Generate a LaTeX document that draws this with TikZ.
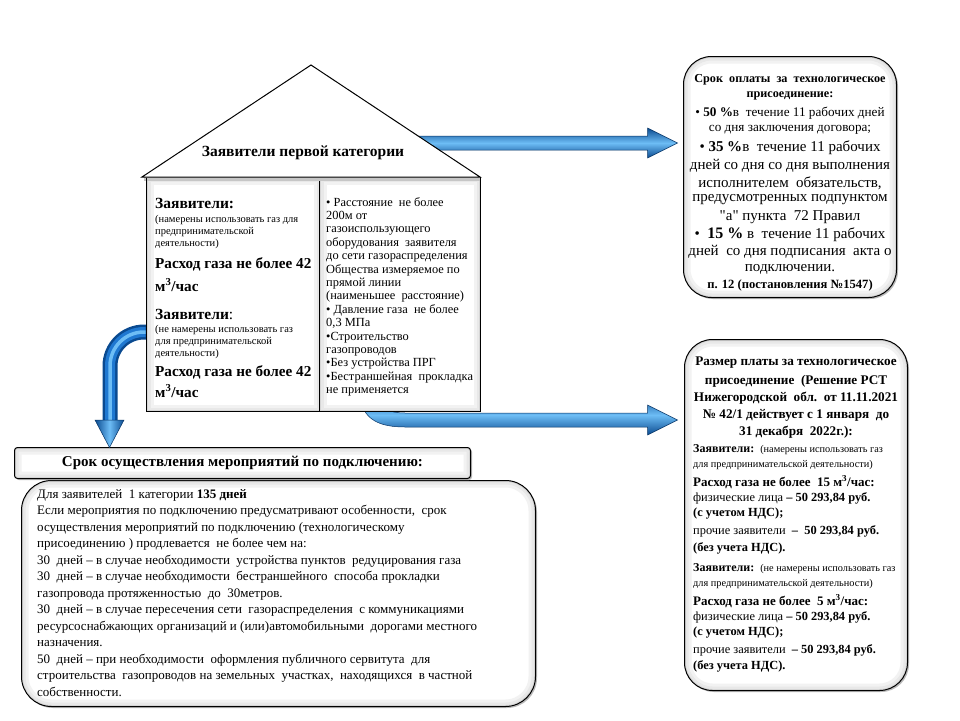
\documentclass[tikz,border=0pt]{standalone}
\usepackage{fontspec}
\setmainfont{Liberation Serif}
\newfontfamily\qfont{Liberation Serif}[Ligatures=TeXOff]
\usetikzlibrary{calc}
\definecolor{adark}{HTML}{0A4A90}
\definecolor{amid}{HTML}{1F78D1}
\definecolor{alight}{HTML}{6DBDF5}
\newcommand{\fsz}[2]{\fontsize{#1}{#2}\selectfont}
\newcommand{\qq}{{\qfont"}}
\newcommand{\glowpath}[2]{%
  \begin{scope}
    \clip[#1] #2;
    \draw[gray!10,line width=14pt,#1] #2;
    \draw[gray!18,line width=8pt,#1] #2;
    \draw[gray!32,line width=3pt,#1] #2;
  \end{scope}
  \draw[black,line width=1pt,#1] #2;}
\begin{document}
\begin{tikzpicture}[x=1pt,y=-1pt,
  box/.style={draw=black,line width=1pt,fill=white,inner sep=0pt},
  txt/.style={inner sep=0pt,align=left,anchor=west},
  ctxt/.style={inner sep=0pt,align=center},
  arrowfill/.style={shading=axis,top color=adark,bottom color=adark,middle color=alight,draw=adark!70!black,line width=0.5pt},
  headv/.style={shading=axis,left color=adark,right color=adark,middle color=alight,draw=adark!70!black,line width=0.5pt},
]
\useasboundingbox (0,0) rectangle (960,720);
\fill[white] (0,0) rectangle (960,720);

% ---------- boxes (nodes) ----------
\node[box,minimum width=212pt,minimum height=240pt,rounded corners=28pt] (pay) at (790,177) {};
\node[box,minimum width=222pt,minimum height=350pt,rounded corners=28pt] (fee) at (796,515) {};
\node[box,minimum width=455pt,minimum height=30pt,rounded corners=3pt] (hdr) at (242.5,463) {};
\node[box,minimum width=513pt,minimum height=225pt,rounded corners=30pt] (term) at (278.5,593.5) {};

% shadows + glow for rounded boxes
\foreach \b/\r in {pay/28pt,fee/28pt,term/30pt}{
  \fill[gray!55,rounded corners=\r] ($(\b.south west)+(1.5,1.5)$) rectangle ($(\b.north east)+(1.5,1.5)$);
  \fill[white,rounded corners=\r] (\b.south west) rectangle (\b.north east);
  \glowpath{rounded corners=\r}{(\b.south west) rectangle (\b.north east)}
}
\fill[gray!55,rounded corners=3pt] ($(hdr.south west)+(1.5,1.5)$) rectangle ($(hdr.north east)+(1.5,1.5)$);
\fill[white,rounded corners=3pt] (hdr.south west) rectangle (hdr.north east);
\glowpath{rounded corners=3pt}{(hdr.south west) rectangle (hdr.north east)}

% ---------- arrows (behind the house) ----------
\coordinate (a1s) at (400,143);
\coordinate (a1e) at ($(pay.west)+(-6,-34)$);
\path[arrowfill] ($(a1s)+(0,-7)$) -- ($(a1e)+(-30,-7)$) -- ($(a1e)+(-30,-15)$) -- (a1e)
  -- ($(a1e)+(-30,15)$) -- ($(a1e)+(-30,7)$) -- ($(a1s)+(0,7)$) -- cycle;

\coordinate (a2e) at ($(fee.west)+(-7,-95)$);
\path[arrowfill] (360,395) .. controls (362,420) and (380,427) .. (405,427)
  -- ($(a2e)+(-30,7)$) -- ($(a2e)+(-30,15)$) -- (a2e) -- ($(a2e)+(-30,-15)$)
  -- ($(a2e)+(-30,-7)$) -- (405,413) .. controls (390,413) and (376,408) .. (374,395) -- cycle;

% ---------- house ----------
\node[box,minimum width=173pt,minimum height=233pt] (lcol) at (233.5,294.5) {};
\node[box,minimum width=160pt,minimum height=233pt] (rcol) at (400,294.5) {};
\glowpath{}{(lcol.south west) rectangle (lcol.north east)}
\glowpath{}{(rcol.south west) rectangle (rcol.north east)}

\fill[gray!45] (144,177) rectangle (480,181);
\draw[black,line width=1pt,fill=white,line join=miter] (142,177) -- (311,65) -- (480,177) -- cycle;
\node[ctxt,font=\bfseries\fsz{15.5}{17}] (rooft) at (303,153) {Заявители первой категории};

% left curved arrow
\draw[adark,line width=15pt,rounded corners=34pt] (lcol.west |- 0,332) -- (110,332) -- (110,422);
\draw[amid,line width=10pt,rounded corners=34pt] ($(lcol.west |- 0,332)+(-1,0)$) -- (110,332) -- (110,422);
\draw[alight,line width=3.5pt,rounded corners=34pt] ($(lcol.west |- 0,332)+(-1,0)$) -- (110,332) -- (110,422);
\path[headv] (95,420) -- (124,420) -- (hdr.north -| 109.5,0) -- cycle;
\draw[black,line width=1pt] (lcol.north west) -- (lcol.south west);

% ---------- left column text ----------
\node[txt,font=\bfseries\fsz{15.5}{17}] (l1) at (155,203) {Заявители:};
\node[txt,font=\fsz{10.5}{12}] (l2) at (155,220) {(намерены использовать газ для};
\node[txt,font=\fsz{10.5}{12}] (l3) at (155,232) {предпринимательской};
\node[txt,font=\fsz{10.5}{12}] (l4) at (155,244) {деятельности)};
\node[txt,font=\bfseries\fsz{15.2}{17}] (l5) at (155,264) {Расход газа не более 42};
\node[txt,font=\bfseries\fsz{15.2}{17}] (l6) at (155,285) {м\textsuperscript{3}/час};
\node[txt,font=\fsz{15.5}{17}] (l7) at (155,314) {\textbf{Заявители}:};
\node[txt,font=\fsz{10.5}{12}] (l8) at (155,330) {(не намерены использовать газ};
\node[txt,font=\fsz{10.5}{12}] (l9) at (155,342) {для предпринимательской};
\node[txt,font=\fsz{10.5}{12}] (l10) at (155,354) {деятельности)};
\node[txt,font=\bfseries\fsz{15.2}{17}] (l11) at (155,372) {Расход газа не более 42};
\node[txt,font=\bfseries\fsz{15.2}{17}] (l12) at (155,391) {м\textsuperscript{3}/час};

% ---------- right column text ----------
\node[inner sep=0pt,align=left,anchor=north west,font=\fsz{12.4}{13.4}] (rtxt) at (326,197) {%
• Расстояние\ \ не более\\
200м от\\
газоиспользующего\\
оборудования\ \ заявителя\\
до сети газораспределения\\
Общества измеряемое по\\
прямой линии\\
(наименьшее\ \ расстояние)\\
• Давление газа\ \ не более\\
0,3 МПа\\
•Строительство\\
газопроводов\\
•Без устройства ПРГ\\
•Бестраншейная\ \ прокладка\\
не применяется};

% ---------- payment box text ----------
\node[ctxt,font=\bfseries\fsz{12.2}{14}] (p1) at (790,80) {Срок\ \ оплаты\ \ за\ \ технологическое};
\node[ctxt,font=\bfseries\fsz{12.2}{14}] (p2) at (790,96) {присоединение:};
\node[ctxt,font=\fsz{13.2}{15}] (p3) at (790,113) {• \textbf{50 \%}в\ \ течение 11 рабочих дней};
\node[ctxt,font=\fsz{13.2}{15}] (p4) at (790,130) {со дня заключения договора;};
\node[ctxt,font=\fsz{15}{17}] (p5) at (790,148) {• \textbf{35 \%}в\ \ течение 11 рабочих};
\node[ctxt,font=\fsz{15}{17}] (p6) at (790,166) {дней со дня со дня выполнения};
\node[ctxt,font=\fsz{15}{17}] (p7) at (790,183) {исполнителем\ \ обязательств,};
\node[ctxt,font=\fsz{15}{17}] (p8) at (790,200) {предусмотренных подпунктом};
\node[ctxt,font=\fsz{15}{17}] (p9) at (790,217) {\qq а\qq{} пункта\ \ 72 Правил};
\node[ctxt,font=\fsz{15}{17}] (p10) at (790,235) {•\ \ \textbf{\fsz{16}{17}15 \%} в\ \ течение 11 рабочих};
\node[ctxt,font=\fsz{15}{17}] (p11) at (790,252) {дней\ \ со дня подписания\ \ акта о};
\node[ctxt,font=\fsz{15}{17}] (p12) at (790,269) {подключении.};
\node[ctxt,font=\bfseries\fsz{12.6}{14}] (p13) at (790,285) {п. 12 (постановления №1547)};

% ---------- fee box text ----------
\node[ctxt,font=\bfseries\fsz{13.2}{15}] (f1) at (796,363) {Размер\ платы\ за\ технологическое};
\node[ctxt,font=\bfseries\fsz{13.2}{15}] (f2) at (796,381) {присоединение\ \ (Решение\ РСТ};
\node[ctxt,font=\bfseries\fsz{13.2}{15}] (f3) at (796,398) {Нижегородской\ \ обл.\ \ от 11.11.2021};
\node[ctxt,font=\bfseries\fsz{13.2}{15}] (f4) at (796,415) {№ 42/1 действует\ с 1 января\ \ до};
\node[ctxt,font=\bfseries\fsz{13.2}{15}] (f5) at (796,432) {31 декабря\ \ 2022г.):};
\node[txt,font=\fsz{12}{14}] (f6) at (693,450) {\textbf{Заявители:}\ \ {\fsz{10.3}{12}(намерены использовать газ}};
\node[txt,font=\fsz{10.3}{12}] (f7) at (693,465) {для предпринимательской деятельности)};
\node[txt,font=\bfseries\fsz{13}{15}] (f8) at (693,482) {Расход газа не более\ \ 15 м\textsuperscript{3}/час:};
\node[txt,font=\fsz{12.4}{14}] (f9) at (693,498) {физические лица \textbf{– 50 293,84 руб.}};
\node[txt,font=\bfseries\fsz{12.4}{14}] (f10) at (693,514) {(с\ учетом\ НДС);};
\node[txt,font=\fsz{12.4}{14}] (f11) at (693,531) {прочие заявители\ \ \textbf{–\ \ 50 293,84 руб.}};
\node[txt,font=\bfseries\fsz{12.4}{14}] (f12) at (693,548) {(без\ учета\ НДС).};
\node[txt,font=\fsz{12}{14}] (f13) at (693,569) {\textbf{Заявители:}\ \ {\fsz{10.3}{12}(не намерены использовать газ}};
\node[txt,font=\fsz{10.3}{12}] (f14) at (693,584) {для предпринимательской деятельности)};
\node[txt,font=\bfseries\fsz{13}{15}] (f15) at (693,601) {Расход газа не более\ \ 5 м\textsuperscript{3}/час:};
\node[txt,font=\fsz{12.4}{14}] (f16) at (693,617) {физические лица \textbf{– 50 293,84 руб.}};
\node[txt,font=\bfseries\fsz{12.4}{14}] (f17) at (693,633) {(с\ учетом\ НДС);};
\node[txt,font=\fsz{12.4}{14}] (f18) at (693,650) {прочие заявители\ \ \textbf{– 50 293,84 руб.}};
\node[txt,font=\bfseries\fsz{12.4}{14}] (f19) at (693,666) {(без\ учета\ НДС).};

% ---------- bottom header + term text ----------
\node[ctxt,font=\bfseries\fsz{15}{17}] (hdrt) at (hdr.center) {Срок осуществления мероприятий по подключению:};
\node[inner sep=0pt,align=left,anchor=north west,font=\fsz{13}{16.5}] (termt) at (37,489) {%
Для заявителей\ \ 1 категории\ \textbf{135 дней}\\
Если мероприятия по подключению предусматривают особенности,\ \ срок\\
осуществления мероприятий по подключению (технологическому\\
присоединению ) продлевается\ \ не более чем на:\\
30\ \ дней – в случае необходимости\ \ устройства пунктов\ \ редуцирования газа\\
30\ \ дней – в случае необходимости\ \ бестраншейного\ \ способа прокладки\\
газопровода протяженностью\ \ до\ \ 30метров.\\
30\ \ дней – в случае пересечения сети\ \ газораспределения\ \ с коммуникациями\\
ресурсоснабжающих организаций и (или)автомобильными\ \ дорогами местного\\
назначения.\\
50\ \ дней – при необходимости\ \ оформления публичного сервитута\ \ для\\
строительства\ \ газопроводов на земельных\ \ участках,\ \ находящихся\ \ в частной\\
собственности.};
\end{tikzpicture}
\end{document}
